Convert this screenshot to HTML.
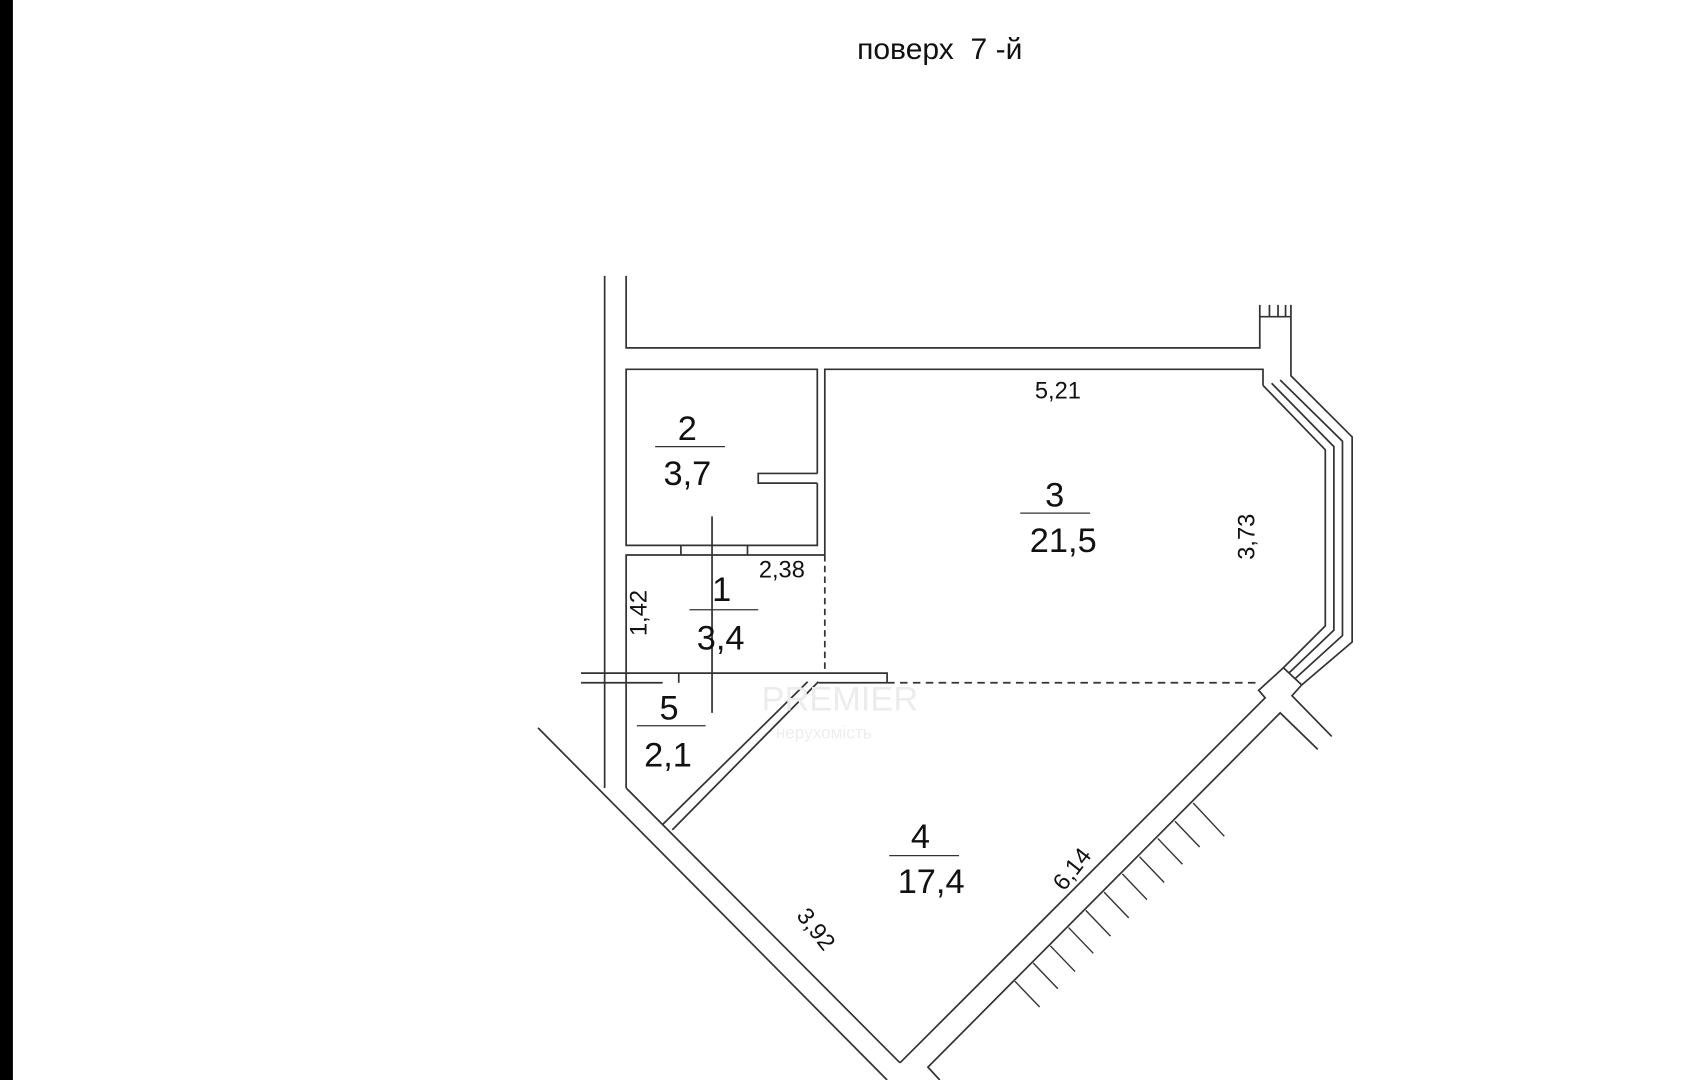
<!DOCTYPE html>
<html><head><meta charset="utf-8"><style>
html,body{margin:0;padding:0;background:#fff;}
svg{display:block;}
text{font-family:"Liberation Sans",sans-serif;fill:#111;}
</style></head><body>
<svg width="1684" height="1080" viewBox="0 0 1568 1006" preserveAspectRatio="none" xmlns="http://www.w3.org/2000/svg">
<rect x="0" y="0" width="1568" height="1006" fill="#fff"/>
<rect x="0" y="0" width="12" height="1006" fill="#000"/>
<text x="875" y="55" font-size="28" text-anchor="middle" xml:space="preserve">поверх  7 -й</text>
<g stroke="#333" stroke-width="1.6" fill="none">
<line x1="563" y1="257" x2="563" y2="734"/>
<polyline points="583,257 583,324 1173,324 1173,284"/>
<line x1="1173" y1="295" x2="1202" y2="295"/>
<line x1="1182" y1="284" x2="1182" y2="295"/>
<line x1="1190" y1="284" x2="1190" y2="295"/>
<line x1="1197" y1="284" x2="1197" y2="295"/>
<polyline points="1202,284 1202,350 1259,407 1259,598 1212,638 1203,648 1240,686"/>
<polyline points="1176,359 1234,419 1234,583 1195,622 1172,643 1178,650 838,990"/>
<line x1="1195" y1="622" x2="1212" y2="638"/>
<polyline points="1184,357 1242,416 1242,587 1200,627"/>
<polyline points="1192,354 1250,411 1250,592 1206,632"/>
<polyline points="768,517 768,344 1176,344 1176,359"/>
<polyline points="761,441 761,344 583,344 583,508 761,508 761,450"/>
<polyline points="761,441 706,441 706,450 761,450"/>
<line x1="634" y1="508" x2="634" y2="517"/>
<line x1="696" y1="508" x2="696" y2="517"/>
<polyline points="583,734 583,517 768,517"/>
<line x1="768" y1="517" x2="768" y2="627" stroke-dasharray="6,4"/>
<polyline points="541,627 826,627 826,636"/>
<line x1="541" y1="636" x2="617" y2="636"/>
<line x1="762" y1="636" x2="826" y2="636"/>
<line x1="632" y1="627" x2="632" y2="636"/>
<line x1="826" y1="636" x2="1172" y2="636" stroke-dasharray="7,5"/>
<line x1="663" y1="481" x2="663" y2="664"/>
<line x1="617" y1="768" x2="752" y2="635"/>
<line x1="626" y1="773" x2="762" y2="635"/>
<line x1="501" y1="678" x2="826" y2="1006"/>
<line x1="583" y1="734" x2="838" y2="990"/>
<polyline points="875,1006 864,994 1192,664 1227,698"/>
</g>
<g stroke="#333" stroke-width="1.3">
<line x1="945" y1="914" x2="968" y2="938"/>
<line x1="962" y1="897" x2="985" y2="921"/>
<line x1="978" y1="881" x2="1001" y2="905"/>
<line x1="995" y1="864" x2="1018" y2="888"/>
<line x1="1011" y1="848" x2="1034" y2="872"/>
<line x1="1028" y1="831" x2="1051" y2="855"/>
<line x1="1045" y1="814" x2="1068" y2="838"/>
<line x1="1061" y1="798" x2="1084" y2="822"/>
<line x1="1078" y1="781" x2="1101" y2="805"/>
<line x1="1094" y1="765" x2="1117" y2="789"/>
<line x1="1111" y1="748" x2="1140" y2="779"/>
</g>
<g stroke="#333" stroke-width="1.2">
<line x1="610" y1="416" x2="675" y2="416"/>
<line x1="950" y1="478" x2="1015" y2="478"/>
<line x1="642" y1="568" x2="706" y2="568"/>
<line x1="593" y1="676" x2="657" y2="676"/>
<line x1="828" y1="797" x2="893" y2="797"/>
</g>
<g font-size="32" text-anchor="middle">
<text x="640" y="410">2</text>
<text x="640" y="452">3,7</text>
<text x="982" y="472">3</text>
<text x="990" y="514">21,5</text>
<text x="672" y="560">1</text>
<text x="671" y="605">3,4</text>
<text x="623" y="670">5</text>
<text x="622" y="714">2,1</text>
<text x="857" y="790">4</text>
<text x="867" y="832">17,4</text>
</g>
<g font-size="22" text-anchor="middle">
<text x="985" y="371">5,21</text>
<text x="728" y="538">2,38</text>
<text transform="translate(1168,500) rotate(-90)">3,73</text>
<text transform="translate(602,571) rotate(-90)">1,42</text>
<text transform="translate(1004,814) rotate(-52)">6,14</text>
<text transform="translate(754,870) rotate(52)">3,92</text>
</g>
<g font-family="Liberation Serif,serif" text-anchor="middle">
<text x="782" y="662" font-size="32" style="fill:#ececec">PREMIER</text>
<text x="767" y="688" font-size="16" style="fill:#eeeeee">нерухомість</text>
</g>
</svg>
</body></html>
